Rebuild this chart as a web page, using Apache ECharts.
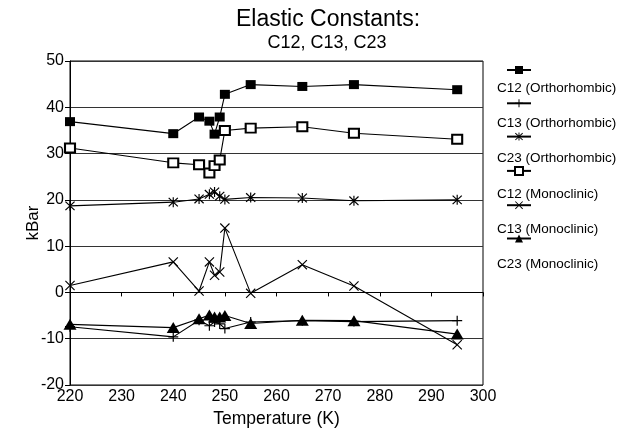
<!DOCTYPE html>
<html>
<head>
<meta charset="utf-8">
<script src="https://cdn.jsdelivr.net/npm/echarts@6/dist/echarts.min.js"></script>
<style>
  html, body { margin: 0; padding: 0; background: #fff; }
  #chart { width: 631px; height: 433px; }
</style>
</head>
<body>
<div id="chart"></div>
<script>
// Temperatures (K) at which all six elastic constants were measured
const temps = [220, 240, 245, 247, 248, 249, 250, 255, 265, 275, 295];

// Elastic constants in kBar
const c12Ortho = [36.9, 34.3, 37.9, 37.0, 34.2, 37.9, 42.8, 44.9, 44.5, 44.9, 43.8];
const c13Ortho = [-7.4, -9.6, -6.0, -7.2, -6.4, -6.8, -7.8, -6.4, -6.1, -6.3, -6.1];
const c23Ortho = [18.7, 19.5, 20.2, 21.2, 21.7, 20.8, 20.1, 20.5, 20.4, 19.8, 20.0];
const c12Mono  = [31.2, 28.0, 27.6, 25.8, 27.4, 28.6, 35.0, 35.5, 35.8, 34.4, 33.1];
const c13Mono  = [1.5, 6.6, 0.3, 6.6, 3.7, 4.4, 13.9, -0.2, 6.0, 1.4, -11.3];
const c23Mono  = [-6.9, -7.6, -5.7, -4.9, -5.3, -5.3, -5.0, -6.7, -6.0, -6.1, -9.0];

const seriesNames = [
  'C12 (Orthorhombic)', 'C13 (Orthorhombic)', 'C23 (Orthorhombic)',
  'C12 (Monoclinic)', 'C13 (Monoclinic)', 'C23 (Monoclinic)'
];
const xTicks = [220, 230, 240, 250, 260, 270, 280, 290, 300];
const yTicks = [-20, -10, 0, 10, 20, 30, 40, 50];

// Marker shapes drawn as filled outlines so they render crisply
const PLUS = 'path://M4.4,0h1.2v10h-1.2z M0,4.4h10v1.2h-10z';
const CROSS = 'path://M0,0.8L0.8,0L10,9.2L9.2,10Z M9.2,0L10,0.8L0.8,10L0,9.2Z';
const STAR = 'path://M4.45,0h1.1v10h-1.1z M0.3,1.1L1.1,0.3L9.7,8.9L8.9,9.7Z M8.9,0.3L9.7,1.1L1.1,9.7L0.3,8.9Z';

const FONT = 'Liberation Sans';
const pairs = vals => temps.map((t, i) => [t, vals[i]]);

const styles = [
  { data: c12Ortho, symbol: 'rect', size: [10, 9] },
  { data: c13Ortho, symbol: PLUS, size: 10 },
  { data: c23Ortho, symbol: STAR, size: 10 },
  { data: c12Mono,  symbol: 'emptyRect', size: [10, 9] },
  { data: c13Mono,  symbol: CROSS, size: 10 },
  { data: c23Mono,  symbol: 'triangle', size: [13, 11] }
];

const series = styles.map((s, i) => ({
  name: seriesNames[i],
  type: 'line',
  data: pairs(s.data),
  symbol: s.symbol,
  symbolSize: s.size,
  showAllSymbol: true,
  lineStyle: { color: '#000', width: 1.1 },
  itemStyle: { color: '#000', borderColor: '#000', borderWidth: i === 3 ? 1.1 : 0 },
  emphasis: { disabled: true },
  animation: false
}));

const chart = echarts.init(document.getElementById('chart'), null, { renderer: 'canvas' });
chart.setOption({
  backgroundColor: '#fff',
  animation: false,
  title: [
    { text: 'Elastic Constants:', left: 323, top: 3, textAlign: 'center',
      textStyle: { fontFamily: FONT, fontSize: 23, fontWeight: 'normal', color: '#000' } },
    { text: 'C12, C13, C23', left: 322, top: 29, textAlign: 'center',
      textStyle: { fontFamily: FONT, fontSize: 18, fontWeight: 'normal', color: '#000' } }
  ],
  legend: [
    {
      // marker row of each legend entry
      orient: 'vertical', left: 501, top: 61,
      itemWidth: 24, itemHeight: 10, itemGap: 25.3,
      selectedMode: false, formatter: () => '',
      textStyle: { fontSize: 10, lineHeight: 10 },
      data: seriesNames
    },
    {
      // caption row of each legend entry
      orient: 'vertical', left: 487, top: 76,
      icon: 'none', itemWidth: 0, itemHeight: 14, itemGap: 21.3,
      selectedMode: false,
      textStyle: { fontFamily: FONT, fontSize: 13.5, color: '#000', lineHeight: 14 },
      data: seriesNames
    }
  ],
  grid: {
    left: 70, top: 61, width: 413, height: 326,
    show: true, borderColor: '#000', borderWidth: 1, backgroundColor: 'transparent'
  },
  xAxis: {
    type: 'value', min: 220, max: 300, interval: 10,
    name: 'Temperature (K)', nameLocation: 'middle', nameGap: 25,
    nameMoveOverlap: false,
    nameTextStyle: { fontFamily: FONT, fontSize: 17.5, color: '#000' },
    axisLine: { lineStyle: { color: '#000', width: 1 } },
    axisTick: { show: true, length: 4, lineStyle: { color: '#000' } },
    axisLabel: { fontFamily: FONT, fontSize: 16, color: '#000', margin: 4,
      formatter: v => xTicks.includes(v) ? String(v) : '' },
    splitLine: { show: false }
  },
  yAxis: {
    type: 'value', min: -20, max: 50, interval: 10,
    name: 'kBar', nameLocation: 'middle', nameGap: 28, nameRotate: 90,
    nameMoveOverlap: false,
    nameTextStyle: { fontFamily: FONT, fontSize: 17, color: '#000' },
    axisLine: { show: true, lineStyle: { color: '#000', width: 1 } },
    axisTick: { show: true, length: 5, lineStyle: { color: '#000' } },
    axisLabel: { fontFamily: FONT, fontSize: 16, color: '#000', margin: 6,
      formatter: v => yTicks.includes(v) ? String(v) : '' },
    splitLine: { show: true, lineStyle: { color: '#333', width: 1 } }
  },
  series: series
});
</script>
</body>
</html>
